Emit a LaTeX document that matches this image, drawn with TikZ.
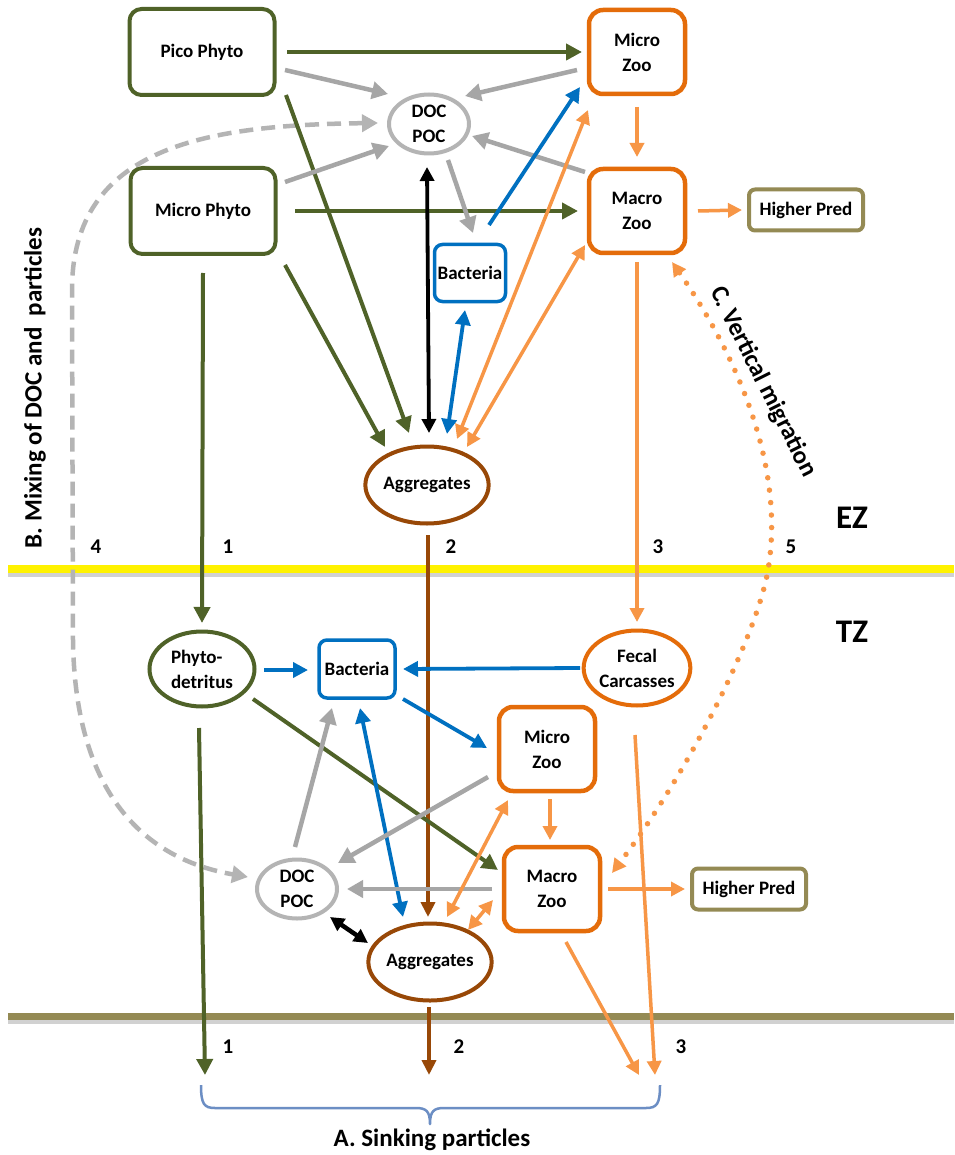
\documentclass[tikz,border=0pt]{standalone}
\usepackage{fontspec}
\setmainfont{Carlito}
\usetikzlibrary{arrows.meta,shapes.geometric,calc}
\definecolor{cG}{RGB}{79,98,40}
\definecolor{cGr}{RGB}{166,166,166}
\definecolor{cGl}{RGB}{180,180,180}
\definecolor{cB}{RGB}{0,112,192}
\definecolor{cOd}{RGB}{228,108,10}
\definecolor{cO}{RGB}{247,150,70}
\definecolor{cBr}{RGB}{152,72,7}
\definecolor{cOl}{RGB}{148,138,84}
\definecolor{cBrace}{RGB}{108,142,196}
\newcommand\fsz[2]{\fontsize{#1}{#2}\selectfont}
\begin{document}
\begin{tikzpicture}[x=1pt,y=-1pt,
  every node/.style={font=\fsz{19}{25}\bfseries, align=center, inner sep=0pt},
  gbox/.style={draw=cG, line width=4pt, rounded corners=12pt, minimum width=145pt, minimum height=86pt},
  obox/.style={draw=cOd, line width=4.5pt, rounded corners=14pt, minimum width=96pt, minimum height=84pt},
  bbox/.style={draw=cB, line width=3.5pt, rounded corners=8pt},
  hbox/.style={draw=cOl, line width=4pt, rounded corners=6pt, minimum width=114pt, minimum height=41pt},
  docn/.style={draw=cGl, ellipse, line width=4pt, minimum width=80pt, minimum height=59pt},
  aggn/.style={draw=cBr, ellipse, line width=4pt, minimum width=104pt, minimum height=77pt},
  phdn/.style={draw=cG, ellipse, line width=4pt, minimum width=105pt, minimum height=75pt},
  fecn/.style={draw=cOd, ellipse, line width=4pt, minimum width=97pt, minimum height=75pt},
  lab/.style={font=\fsz{21}{25}\bfseries},
  zone/.style={font=\fsz{33}{36}\bfseries},
  bigt/.style={font=\fsz{25}{30}\bfseries},
  aG/.style={draw=cG, line width=4pt, >={Triangle[length=16pt,width=16pt]}},
  aGr/.style={draw=cGr, line width=4.5pt, >={Triangle[length=16pt,width=17pt]}},
  aB/.style={draw=cB, line width=3.8pt, >={Triangle[length=15pt,width=15pt]}},
  aO/.style={draw=cO, line width=3.5pt, >={Triangle[length=14pt,width=14pt]}},
  aK/.style={draw=black, line width=3.8pt, >={Triangle[length=14pt,width=14pt]}},
  aBr/.style={draw=cBr, line width=3.8pt, >={Triangle[length=15pt,width=14pt]}}
]
\fill[white] (0,0) rectangle (954,1155);
\useasboundingbox (0,0) rectangle (954,1155);

% horizontal zone lines
\draw[line width=4pt, black!18] (8,575) -- (954,575);
\draw[line width=8pt, yellow] (8,569) -- (954,569);
\draw[line width=4pt, black!18] (8,1022) -- (954,1022);
\draw[line width=7pt, cOl] (8,1016) -- (954,1016);

% nodes - upper (EZ)
\node[gbox] (pico) at (202,52) {Pico Phyto};
\node[gbox] (mphy) at (203,211) {Micro Phyto};
\node[obox] (mzt) at (637,52) {Micro\\Zoo};
\node[obox] (Mzt) at (637,211) {Macro\\Zoo};
\node[hbox] (hpt) at (806,210) {Higher Pred};
\node[docn] (doct) at (429,124) {DOC\\POC};
\node[bbox, minimum width=71pt, minimum height=57pt] (bact) at (470,273) {Bacteria};
\node[aggn] (aggt) at (427,485) {Aggregates};

% nodes - lower (TZ)
\node[phdn, align=left] (phd) at (202,669) {Phyto-\\detritus};
\node[bbox, minimum width=76pt, minimum height=58pt] (bacb) at (357,669) {Bacteria};
\node[fecn] (fec) at (637,668) {Fecal\\Carcasses};
\node[obox] (mzb) at (547,749) {Micro\\Zoo};
\node[obox] (Mzb) at (552,889) {Macro\\Zoo};
\node[hbox] (hpb) at (749,889) {Higher Pred};
\node[docn] (docb) at (297,889) {DOC\\POC};
\node[aggn] (aggb) at (430,962) {Aggregates};

% free ends
\coordinate (s1) at (205,1075);
\coordinate (s2) at (429,1075);
\coordinate (s3) at (655,1075);
\coordinate (s3b) at (639,1075);

% labels
\node[lab] (n4) at (96,547) {4};
\node[lab] (n1) at (228,547) {1};
\node[lab] (n2) at (451,547) {2};
\node[lab] (n3) at (658,547) {3};
\node[lab] (n5) at (791,547) {5};
\node[lab] (m1) at (228,1047) {1};
\node[lab] (m2) at (459,1047) {2};
\node[lab] (m3) at (681,1047) {3};
\node[zone] (ez) at (852,518) {EZ};
\node[zone] (tz) at (852,632) {TZ};
\node[bigt, rotate=90] (mix) at (35,388) {B. Mixing of DOC and\ \ particles};
\node[bigt, rotate=-63.4] (vm) at (763,382) {C. Vertical migration};
\node[font=\fsz{25}{28}\bfseries] (sink) at (432,1140) {A. Sinking particles};

% dashed mixing curve
\draw[aGr, draw=cGl, dash pattern=on 14pt off 8pt, <->]
  ([shift={(-51,-1)}]doct.center) .. controls (210,125) and (72,145) .. (72,290)
  -- (73,640) .. controls (75,800) and (150,860) .. ([shift={(-49,-12)}]docb.center);

% dotted vertical migration
\draw[aO, line width=5.5pt, line cap=round, dash pattern=on 0pt off 12.5pt, <->,
      >={Triangle[length=14pt,width=14pt]}]
  ([shift={(35,51)}]Mzt.center) .. controls (740,360) and (785,470) .. (768,570)
  .. controls (757,635) and (690,770) .. ([shift={(60,-16)}]Mzb.center);

% upper arrows
\draw[aG,->] ([shift={(85,0)}]pico.center) -- ([shift={(-55,0)}]mzt.center);
\draw[aGr,->] ([shift={(83,18)}]pico.center) -- ([shift={(-41,-30)}]doct.center);
\draw[aG,->] ([shift={(84,43)}]pico.center) -- ([shift={(-18,-52)}]aggt.center);
\draw[aGr,->] ([shift={(82,-29)}]mphy.center) -- ([shift={(-40,22)}]doct.center);
\draw[aG,->] ([shift={(92,0)}]mphy.center) -- ([shift={(-59,0)}]Mzt.center);
\draw[aG,->] ([shift={(82,54)}]mphy.center) -- ([shift={(-42,-38)}]aggt.center);
\draw[aG,->] ([shift={(0,62)}]mphy.center) -- ([shift={(0,-46)}]phd.center);
\draw[aGr,->] ([shift={(-60,18)}]mzt.center) -- ([shift={(36,-28)}]doct.center);
\draw[aGr,->] ([shift={(-52,-39)}]Mzt.center) -- ([shift={(43,12)}]doct.center);
\draw[aGr,->] ([shift={(19,36)}]doct.center) -- ([shift={(3,-40)}]bact.center);
\draw[aB,->] ([shift={(19,-48)}]bact.center) -- ([shift={(-57,35)}]mzt.center);
\draw[aO,->] ([shift={(0,55)}]mzt.center) -- ([shift={(0,-54)}]Mzt.center);
\draw[aO,->] ([shift={(61,0)}]Mzt.center) -- ([shift={(-64,0)}]hpt.center);
\draw[aK,<->] ([shift={(2,-52)}]aggt.center) -- ([shift={(-2,43)}]doct.center);
\draw[aB,<->] ([shift={(-5,37)}]bact.center) -- ([shift={(20,-51)}]aggt.center);
\draw[aO,<->] ([shift={(30,-46)}]aggt.center) -- ([shift={(-49,58)}]mzt.center);
\draw[aO,<->] ([shift={(40,-38)}]aggt.center) -- ([shift={(-52,34)}]Mzt.center);
\draw[aO,->] ([shift={(0,51)}]Mzt.center) -- ([shift={(0,-46)}]fec.center);
\draw[aBr,->] ([shift={(1,50)}]aggt.center) -- ([shift={(-2,-45)}]aggb.center);

% lower arrows
\draw[aB,->] ([shift={(62,1)}]phd.center) -- ([shift={(-49,1)}]bacb.center);
\draw[aB,->] ([shift={(-57,0)}]fec.center) -- ([shift={(46,0)}]bacb.center);
\draw[aB,->] ([shift={(46,30)}]bacb.center) -- ([shift={(-60,-1)}]mzb.center);
\draw[aG,->] ([shift={(51,30)}]phd.center) -- ([shift={(-54,-19)}]Mzb.center);
\draw[aGr,->] ([shift={(-2,-42)}]docb.center) -- ([shift={(-25,39)}]bacb.center);
\draw[aB,<->] ([shift={(3,39)}]bacb.center) -- ([shift={(-27,-45)}]aggb.center);
\draw[aGr,->] ([shift={(-59,28)}]mzb.center) -- ([shift={(41,-26)}]docb.center);
\draw[aGr,->] ([shift={(-60,0)}]Mzb.center) -- ([shift={(50,0)}]docb.center);
\draw[aO,<->] ([shift={(-39,51)}]mzb.center) -- ([shift={(17,-45)}]aggb.center);
\draw[aO,<->] ([shift={(-59,11)}]Mzb.center) -- ([shift={(38,-32)}]aggb.center);
\draw[aO,->] ([shift={(3,50)}]mzb.center) -- ([shift={(-2,-49)}]Mzb.center);
\draw[aO,->] ([shift={(56,0)}]Mzb.center) -- ([shift={(-64,0)}]hpb.center);
\draw[aK,line width=4.5pt,<->] ([shift={(33,28)}]docb.center) -- ([shift={(-62,-19)}]aggb.center);
\draw[aG,->] ([shift={(-3,59)}]phd.center) -- (s1);
\draw[aBr,->] ([shift={(-1,45)}]aggb.center) -- (s2);
\draw[aO,->] ([shift={(-2,67)}]fec.center) -- (s3);
\draw[aO,->] ([shift={(14,53)}]Mzb.center) -- (s3b);

% brace
\draw[cBrace, line width=2.5pt, line join=round]
  (201,1085) .. controls (201,1104) and (204,1108) .. (215,1108) -- (416,1108)
  .. controls (426,1108) and (430,1111) .. (430,1124)
  .. controls (430,1111) and (434,1108) .. (444,1108) -- (646,1108)
  .. controls (657,1108) and (660,1104) .. (660,1085);
\end{tikzpicture}
\end{document}
